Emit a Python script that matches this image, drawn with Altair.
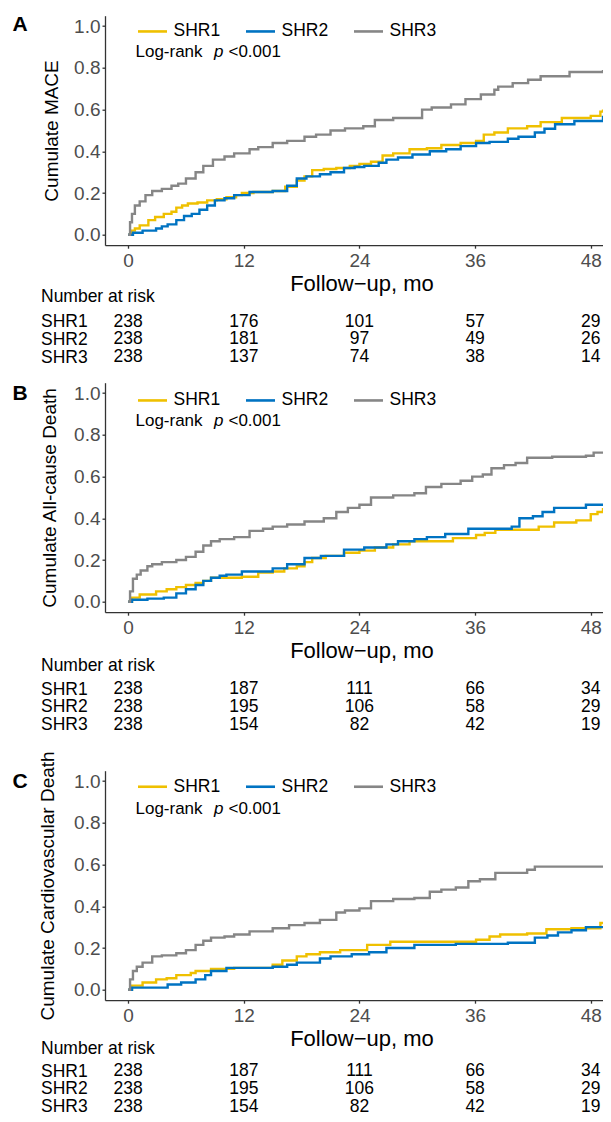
import altair as alt
import pandas as pd

FONT = "Liberation Sans"
groups = ["SHR1", "SHR2", "SHR3"]
colors = ["#EFC000", "#0073C2", "#868686"]
risk_times = [0, 12, 24, 36, 48]
tick_months = [0, 12, 24, 36, 48]
tick_probs = [0.0, 0.2, 0.4, 0.6, 0.8, 1.0]

# ---------------- Panel A: MACE ----------------
a_shr1_t = [0, 0.3, 0.7, 1.2, 2.1, 2.8, 3.7, 4.5, 5, 5.6, 6.2, 7.2, 8.2, 9.2, 10.2, 11.2, 11.8, 13, 15, 16.3, 17.5, 18.3, 19.1, 20.3, 21.6, 23, 24, 25.2, 26.4, 27.5, 29.2, 31, 32.5, 34.5, 36.1, 36.9, 38, 39.4, 41.4, 42.8, 45, 48.0, 49.0, 50.0]
a_shr1_v = [0, 0.02, 0.03, 0.045, 0.07, 0.085, 0.10, 0.11, 0.13, 0.14, 0.15, 0.155, 0.165, 0.17, 0.18, 0.19, 0.20, 0.205, 0.21, 0.23, 0.26, 0.28, 0.31, 0.315, 0.32, 0.33, 0.34, 0.35, 0.38, 0.39, 0.41, 0.415, 0.43, 0.44, 0.45, 0.48, 0.49, 0.51, 0.52, 0.54, 0.56, 0.57, 0.59, 0.60]
a_shr2_t = [0, 0.5, 1.5, 2.9, 3.5, 4.1, 5, 5.8, 6.6, 7.4, 8.2, 9, 10, 11, 12.6, 15, 16.5, 17.5, 18.5, 19.9, 21, 22.4, 23.5, 24.5, 26, 26.8, 28, 29.5, 31.3, 33, 34.5, 36.1, 37.5, 39.4, 40.5, 42.2, 43.2, 44.3, 46.3, 49.7]
a_shr2_v = [0, 0.01, 0.02, 0.03, 0.04, 0.05, 0.07, 0.09, 0.10, 0.12, 0.14, 0.165, 0.175, 0.19, 0.205, 0.21, 0.235, 0.27, 0.28, 0.29, 0.30, 0.32, 0.325, 0.33, 0.345, 0.36, 0.37, 0.385, 0.40, 0.41, 0.425, 0.44, 0.445, 0.46, 0.47, 0.49, 0.508, 0.53, 0.545, 0.57]
a_shr3_t = [0, 0.2, 0.4, 0.7, 1.2, 1.8, 2.5, 3.5, 4.5, 5.2, 6, 7, 7.8, 8.8, 10, 11, 12.6, 13.5, 15, 16.5, 18.3, 19.5, 21, 22.5, 24.4, 25.6, 27.5, 30.5, 31.5, 33.5, 35, 36.6, 38, 38.4, 39.9, 41.5, 42.8, 45.8, 49.4]
a_shr3_v = [0, 0.06, 0.10, 0.14, 0.16, 0.19, 0.21, 0.22, 0.235, 0.245, 0.27, 0.30, 0.33, 0.36, 0.375, 0.39, 0.41, 0.42, 0.44, 0.45, 0.47, 0.48, 0.50, 0.51, 0.52, 0.55, 0.56, 0.60, 0.61, 0.625, 0.65, 0.672, 0.695, 0.71, 0.727, 0.743, 0.76, 0.78, 0.79]
a_risk_shr1 = [238, 176, 101, 57, 29]
a_risk_shr2 = [238, 181, 97, 49, 26]
a_risk_shr3 = [238, 137, 74, 38, 14]

# ---------------- Panel B: All-cause death ----------------
b_shr1_t = [0, 0.4, 1.2, 2.9, 4, 5, 6, 7, 7.8, 8.6, 11.8, 13.5, 15, 16.2, 17.5, 18.3, 19.1, 20.5, 22.4, 24, 25.6, 27.5, 29.2, 33.7, 36.1, 37, 38.1, 42.6, 44.2, 46.5, 48.0, 48.7, 49.8]
b_shr1_v = [0, 0.02, 0.035, 0.05, 0.06, 0.07, 0.08, 0.09, 0.10, 0.115, 0.12, 0.14, 0.145, 0.16, 0.17, 0.19, 0.21, 0.22, 0.235, 0.245, 0.26, 0.275, 0.29, 0.305, 0.32, 0.33, 0.345, 0.36, 0.38, 0.39, 0.42, 0.43, 0.45]
b_shr2_t = [0, 0.4, 2, 3.7, 5, 6, 7, 7.8, 8.6, 9.5, 10.2, 11.8, 15, 16.5, 18.3, 20, 22.4, 24.5, 26.8, 28, 29.7, 31, 32.9, 35.3, 39.8, 40.6, 42, 43, 44.2, 47.5, 49.5]
b_shr2_v = [0, 0.01, 0.015, 0.02, 0.04, 0.06, 0.08, 0.10, 0.115, 0.125, 0.13, 0.145, 0.16, 0.18, 0.21, 0.22, 0.25, 0.26, 0.275, 0.29, 0.30, 0.31, 0.325, 0.35, 0.36, 0.40, 0.41, 0.43, 0.45, 0.465, 0.47]
b_shr3_t = [0, 0.2, 0.5, 0.9, 1.3, 2, 2.5, 3.5, 5, 6, 7, 7.8, 8.6, 9.5, 11, 12.6, 14, 15, 16.5, 18.3, 20.3, 21.6, 22.8, 24, 25.2, 27.5, 29.7, 30.9, 32.5, 34.5, 35.7, 36.8, 37.7, 39, 40.2, 41.4, 44, 47.5, 48.3]
b_shr3_v = [0, 0.05, 0.11, 0.13, 0.15, 0.17, 0.18, 0.19, 0.20, 0.215, 0.24, 0.27, 0.29, 0.30, 0.31, 0.34, 0.35, 0.36, 0.37, 0.385, 0.40, 0.43, 0.45, 0.465, 0.50, 0.51, 0.52, 0.55, 0.565, 0.58, 0.60, 0.61, 0.64, 0.655, 0.665, 0.69, 0.695, 0.70, 0.715]
b_risk_shr1 = [238, 187, 111, 66, 34]
b_risk_shr2 = [238, 195, 106, 58, 29]
b_risk_shr3 = [238, 154, 82, 42, 19]

# ---------------- Panel C: Cardiovascular death ----------------
c_shr1_t = [0, 0.4, 1.5, 2.9, 4, 5, 6.5, 7, 8.6, 11, 15, 16, 17.5, 18.5, 19.9, 22, 24.8, 27.2, 36.1, 37.5, 38.6, 41.4, 43.4, 46, 49]
c_shr1_v = [0, 0.02, 0.035, 0.05, 0.055, 0.07, 0.08, 0.09, 0.10, 0.105, 0.12, 0.14, 0.16, 0.17, 0.18, 0.19, 0.215, 0.23, 0.24, 0.255, 0.265, 0.27, 0.29, 0.295, 0.32]
c_shr2_t = [0, 0.4, 4.1, 5.5, 7, 8, 8.6, 10.2, 15, 16.5, 17.5, 19.9, 21, 23.2, 25, 26.8, 29.7, 34, 39.4, 42.2, 43.5, 44.6, 46, 47.5]
c_shr2_v = [0, 0.01, 0.025, 0.035, 0.05, 0.07, 0.09, 0.105, 0.11, 0.12, 0.13, 0.15, 0.16, 0.17, 0.18, 0.20, 0.215, 0.22, 0.225, 0.25, 0.26, 0.275, 0.285, 0.30]
c_shr3_t = [0, 0.2, 0.5, 0.9, 1.5, 2.5, 3.5, 5, 6, 7, 7.8, 8.6, 10, 11, 12.6, 15, 16.7, 18.3, 19.9, 21.6, 22.5, 24, 25.2, 27.5, 29.7, 31.3, 32.5, 34, 35.3, 36.5, 38.1, 41.4, 42.2]
c_shr3_v = [0, 0.05, 0.09, 0.11, 0.13, 0.16, 0.165, 0.175, 0.19, 0.215, 0.235, 0.25, 0.255, 0.265, 0.28, 0.295, 0.31, 0.32, 0.335, 0.37, 0.38, 0.39, 0.425, 0.435, 0.44, 0.47, 0.48, 0.49, 0.52, 0.53, 0.56, 0.575, 0.59]
c_risk_shr1 = [238, 187, 111, 66, 34]
c_risk_shr2 = [238, 195, 106, 58, 29]
c_risk_shr3 = [238, 154, 82, 42, 19]

# ---------------- layout constants (pixels) ----------------
PX_PER_MONTH = 9.638
W = 498
XMIN = -2.4
XMAX = XMIN + W / PX_PER_MONTH
KM_H = 229.5
ROW_STEP = 17.8
LABEL_X = 64.5  # distance of the left text column from the plot edge
TXT = 17.5


def km_frame(series):
    rows = []
    for g, (ts, vs) in zip(groups, series):
        for t, v in zip(ts, vs):
            rows.append({"group": g, "t": min(t, XMAX), "v": v})
        rows.append({"group": g, "t": XMAX, "v": vs[-1]})
    return pd.DataFrame(rows)


def risk_frame(risks):
    rows = []
    for g, ns in zip(groups, risks):
        for t, n in zip(risk_times, ns):
            rows.append({"group": g, "t": t, "n": n})
    return pd.DataFrame(rows)


def note(text, x, y, **kw):
    return alt.Chart(pd.DataFrame({"s": [text]})).mark_text(
        font=FONT, color="black", baseline="middle", **kw
    ).encode(text="s:N", x=alt.value(x), y=alt.value(y))


def km_chart(df, ytitle, letter, letter_y, legend_y, logrank_y, ytitle_pad):
    xs = alt.Scale(domain=[XMIN, XMAX], nice=False, zero=False)
    ys = alt.Scale(domain=[-0.05, 1.05], nice=False, zero=False)
    lines = alt.Chart(df).mark_line(interpolate="step-after", strokeWidth=2.4, clip=True).encode(
        x=alt.X("t:Q", scale=xs, axis=alt.Axis(
            values=tick_months, title="Follow\u2212up, mo", grid=False,
            labelFont=FONT, labelFontSize=19, labelColor="#4D4D4D",
            titleFont=FONT, titleFontSize=22, titleFontWeight="normal", titleColor="black",
            titleX=(0 - XMIN) * PX_PER_MONTH + 24 * PX_PER_MONTH + 2,
            domainColor="#333333", domainWidth=1.3, tickColor="#333333", tickWidth=1.3,
            tickSize=3, labelPadding=3, titlePadding=3)),
        y=alt.Y("v:Q", scale=ys, axis=alt.Axis(
            values=tick_probs, format=".1f", title=ytitle, grid=False,
            labelFont=FONT, labelFontSize=19, labelColor="#4D4D4D",
            titleFont=FONT, titleFontSize=19, titleFontWeight="normal", titleColor="black",
            domainColor="#333333", domainWidth=1.3, tickColor="#333333", tickWidth=1.3,
            tickSize=3, labelPadding=2, titlePadding=ytitle_pad)),
        color=alt.Color("group:N", scale=alt.Scale(domain=groups, range=colors), legend=alt.Legend(
            title=None, orient="none", legendX=31.5, legendY=legend_y, direction="horizontal",
            symbolType="stroke", symbolSize=841, symbolStrokeWidth=2.6, labelOffset=5,
            columnPadding=20, padding=0, labelFont=FONT, labelFontSize=TXT, labelColor="black")),
    )
    layers = [
        lines,
        note(letter, -85, letter_y, fontSize=21, fontWeight="bold", align="center"),
        note("Log-rank", 30.5, logrank_y, fontSize=17, align="left"),
        note("p", 109, logrank_y, fontSize=17, fontStyle="italic", align="left"),
        note("<0.001", 123.5, logrank_y, fontSize=17, align="left"),
    ]
    return alt.layer(*layers).properties(width=W, height=KM_H)


def risk_chart(df, H, first_off, header_off):
    return alt.Chart(df).mark_text(font=FONT, fontSize=TXT, color="black", baseline="middle").encode(
        x=alt.X("t:Q", scale=alt.Scale(domain=[XMIN, XMAX], nice=False, zero=False), axis=None),
        y=alt.Y("group:N", scale=alt.Scale(domain=groups, range=[first_off, first_off + 2 * ROW_STEP], padding=0),
                axis=alt.Axis(
                    title="Number at risk", titleAngle=0, titleAlign="left", titleBaseline="middle",
                    titleX=-LABEL_X, titleY=header_off, titleFont=FONT, titleFontSize=TXT,
                    titleFontWeight="normal", titleColor="black",
                    labelAlign="left", labelBaseline="middle", labelPadding=LABEL_X, ticks=False, tickSize=0,
                    domain=False, grid=False, labelFont=FONT, labelFontSize=TXT, labelColor="black")),
        text="n:Q",
    ).properties(width=W, height=H)


kmA = km_chart(km_frame([(a_shr1_t, a_shr1_v), (a_shr2_t, a_shr2_v), (a_shr3_t, a_shr3_v)]),
               "Cumulate MACE", "A", 8.9, -0.5, 36.4, 12)
rtA = risk_chart(risk_frame([a_risk_shr1, a_risk_shr2, a_risk_shr3]), 136.5, 76, 51)
kmB = km_chart(km_frame([(b_shr1_t, b_shr1_v), (b_shr2_t, b_shr2_v), (b_shr3_t, b_shr3_v)]),
               "Cumulate All-cause Death", "B", 11.2, 1.5, 38.7, 14)
rtB = risk_chart(risk_frame([b_risk_shr1, b_risk_shr2, b_risk_shr3]), 157.7, 76.5, 52.5)
kmC = km_chart(km_frame([(c_shr1_t, c_shr1_v), (c_shr2_t, c_shr2_v), (c_shr3_t, c_shr3_v)]),
               "Cumulate Cardiovascular Death", "C", 11.7, -0.2, 38.3, 16)
rtC = risk_chart(risk_frame([c_risk_shr1, c_risk_shr2, c_risk_shr3]), 108, 70.5, 47.5)

chart = alt.vconcat(kmA, rtA, kmB, rtB, kmC, rtC, spacing=0, bounds="flush").resolve_scale(
    color="independent"
).properties(
    padding={"left": 4, "top": 4.7, "right": 0, "bottom": 0}
).configure_view(stroke=None)

chart.save("out.html", embed_options={"renderer": "svg", "actions": False})
